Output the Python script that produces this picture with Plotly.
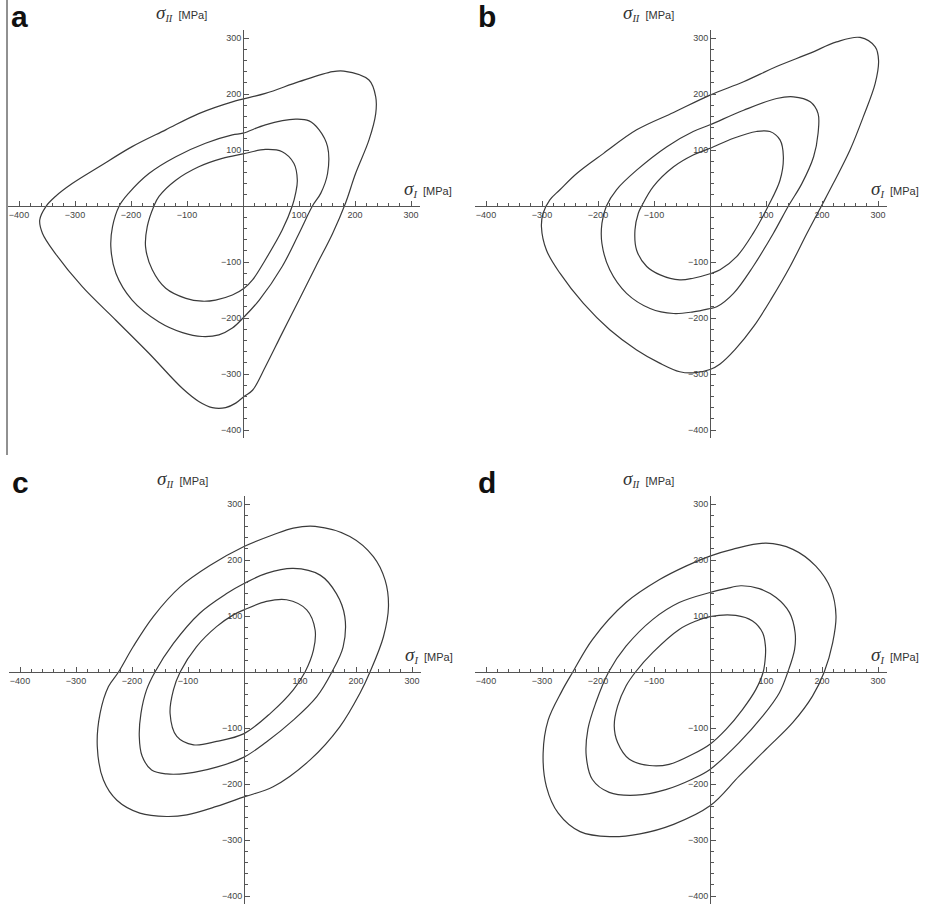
import plotly.graph_objects as go

# ── curve data (sigma_I, sigma_II in MPa) ──────────────────────────────────
# each list is one closed curve; the first point is repeated at draw time
# panel a
A_OUTER_X = [130, 100, 70, 40, 17, 2, -13, -31, -55, -79, -108, -168, -227, -287, -335, -358, -363, -352, -335,
             -305, -257, -198, -138, -79, -19, 40, 100, 160, 180, 225, 237, 237, 225, 201, 183, 160]
A_OUTER_Y = [-108, -168, -227, -287, -329, -340, -352, -360, -360, -349, -326, -263, -204, -144, -85, -49, -25, -1, 17,
             40, 70, 106, 136, 165, 186, 201, 222, 240, 241, 225, 195, 165, 118, 58, 5, -49]
A_MID_X = [70, 29, 2, -19, -43, -73, -108, -150, -198, -227, -236, -233, -221, -204, -168, -120, -67, -19, 0, 40,
           94, 118, 136, 151, 151, 139, 124, 100]
A_MID_Y = [-108, -168, -198, -218, -230, -233, -226, -207, -168, -120, -73, -37, 0, 23, 58, 88, 112, 127, 130, 145,
           155, 152, 136, 106, 58, 23, 0, -49]
A_IN_X = [40, 17, 2, -19, -49, -73, -102, -138, -162, -174, -171, -159, -150, -120, -79, -37, 0, 40, 70, 91, 97,
          94, 88, 70]
A_IN_Y = [-96, -132, -147, -159, -168, -170, -165, -147, -114, -73, -37, 0, 17, 46, 70, 85, 93, 101, 97, 76, 46,
          23, 0, -43]

# panel b
B_OUTER_X = [143, 110, 78, 45, 18, 0, -30, -54, -89, -131, -179, -226, -268, -292, -301, -298, -286, -268, -238,
             -190, -131, -65, 0, 60, 119, 179, 226, 268, 295, 301, 295, 274, 250, 220, 199, 173]
B_OUTER_Y = [-108, -165, -215, -256, -282, -292, -298, -296, -281, -257, -221, -174, -120, -79, -37, -13, 11, 29, 58,
             94, 136, 167, 198, 222, 249, 273, 293, 301, 284, 260, 219, 160, 100, 40, 0, -49]
B_MID_X = [77, 42, 12, 0, -30, -65, -107, -149, -179, -193, -193, -185, -167, -131, -77, -30, 0, 60, 119, 149,
           179, 193, 193, 185, 164, 140, 113]
B_MID_Y = [-108, -156, -180, -183, -189, -192, -183, -156, -114, -67, -31, 0, 29, 64, 106, 133, 145, 171, 192, 195,
           186, 165, 130, 88, 40, 0, -49]
B_IN_X = [48, 18, 0, -30, -54, -89, -113, -131, -134, -128, -122, -101, -65, -30, 0, 42, 83, 107, 125, 131, 125,
          104, 77]
B_IN_Y = [-90, -114, -121, -129, -132, -123, -108, -79, -43, -13, 0, 35, 70, 91, 103, 121, 133, 133, 118, 88, 46,
          0, -49]

# panel c
C_OUTER_X = [171, 118, 52, 0, -49, -102, -138, -186, -227, -251, -262, -257, -242, -224, -198, -162, -114, -61, 0,
             52, 88, 127, 189, 231, 252, 258, 249, 225, 207]
C_OUTER_Y = [-98, -157, -205, -223, -240, -255, -258, -252, -229, -193, -133, -74, -26, 0, 45, 99, 152, 190, 224,
             245, 257, 260, 242, 206, 164, 117, 63, 0, -38]
C_MID_X = [88, 40, 0, -49, -102, -138, -165, -182, -187, -184, -174, -159, -126, -79, -31, 0, 40, 88, 136, 165,
           180, 177, 157, 130]
C_MID_Y = [-86, -125, -152, -170, -181, -182, -175, -150, -115, -74, -32, 0, 51, 105, 140, 158, 176, 185, 173, 140,
           99, 45, 0, -44]
C_IN_X = [-85, -49, -19, 0, 40, 76, 112, 127, 124, 109, 88, 48, 0, -49, -90, -120, -132, -126, -114]
C_IN_Y = [45, 81, 102, 111, 126, 129, 111, 75, 39, 0, -32, -73, -110, -124, -130, -115, -74, -32, 0]

# panel d
D_OUTER_X = [148, 100, 52, 0, -65, -125, -179, -232, -271, -292, -298, -289, -265, -245, -210, -150, -90, -43, 0,
             40, 100, 148, 189, 216, 225, 219, 204, 183]
D_OUTER_Y = [-90, -138, -186, -239, -272, -289, -294, -285, -252, -205, -145, -86, -35, 0, 58, 124, 165, 189, 207,
             219, 230, 219, 189, 148, 100, 52, 0, -43]
D_MID_X = [94, 52, 0, -31, -79, -132, -180, -210, -221, -218, -204, -181, -150, -102, -55, 0, 29, 55, 88, 118,
           142, 152, 151, 139, 124]
D_MID_Y = [-79, -126, -174, -191, -210, -220, -215, -192, -150, -102, -55, 0, 46, 94, 124, 142, 149, 154, 149, 133,
           106, 70, 40, 0, -37]
D_IN_X = [58, 29, 0, -31, -73, -108, -144, -165, -171, -165, -150, -133, -102, -55, -25, 0, 46, 76, 94, 99, 99,
          95, 82]
D_IN_Y = [-67, -102, -129, -147, -165, -167, -156, -126, -96, -61, -25, 0, 35, 76, 91, 99, 101, 91, 70, 46, 29,
          0, -31]

PANELS = {
    "a": [(A_OUTER_X, A_OUTER_Y), (A_MID_X, A_MID_Y), (A_IN_X, A_IN_Y)],
    "b": [(B_OUTER_X, B_OUTER_Y), (B_MID_X, B_MID_Y), (B_IN_X, B_IN_Y)],
    "c": [(C_OUTER_X, C_OUTER_Y), (C_MID_X, C_MID_Y), (C_IN_X, C_IN_Y)],
    "d": [(D_OUTER_X, D_OUTER_Y), (D_MID_X, D_MID_Y), (D_IN_X, D_IN_Y)],
}

TICKS = [-400, -300, -200, -100, 100, 200, 300]
X_RANGE = [-420, 316]
Y_RANGE = [-414, 314]

# ── layout in pixels ──────────────────────────────────────────────────────
W, H = 927, 910
SCALE = 0.56                       # px per MPa
ORIGINS = {"a": (243, 206), "b": (710, 206), "c": (244, 672), "d": (710, 672)}
LINE_C = "#3a3a3a"
AXIS_C = "#555555"

def px(x):
    return x / W

def py(y):
    return 1 - y / H

fig = go.Figure()
layout = dict(width=W, height=H, margin=dict(l=0, r=0, t=0, b=0),
              plot_bgcolor="white", paper_bgcolor="white",
              showlegend=False, hovermode=False)
annotations = []

sig_ii = ('<span style="font-family:Liberation Serif;font-size:19px"><i>σ</i></span>'
          '<span style="font-family:Liberation Serif;font-size:15px"><sub><i>II</i></sub></span>'
          '&nbsp;&nbsp;<span style="font-size:11px">[MPa]</span>')
sig_i = ('<span style="font-family:Liberation Serif;font-size:19px"><i>σ</i></span>'
         '<span style="font-family:Liberation Serif;font-size:15px"><sub><i>I</i></sub></span>'
         '&nbsp;&nbsp;<span style="font-size:11px">[MPa]</span>')

for i, (name, curves) in enumerate(PANELS.items()):
    n = "" if i == 0 else str(i + 1)
    ox, oy = ORIGINS[name]
    x0 = ox + X_RANGE[0] * SCALE
    x1 = ox + X_RANGE[1] * SCALE
    ytop = oy - Y_RANGE[1] * SCALE
    ybot = oy - Y_RANGE[0] * SCALE

    for cx, cy in curves:
        fig.add_trace(go.Scatter(x=cx + cx[:1], y=cy + cy[:1], mode="lines",
                                 line=dict(color=LINE_C, width=1.2, shape="spline", smoothing=1.0),
                                 xaxis="x" + n, yaxis="y" + n))

    common = dict(showgrid=False, zeroline=False, showline=True, linecolor=AXIS_C, linewidth=1,
                  tickmode="array", tickvals=TICKS, ticks="inside", ticklen=5, tickcolor=AXIS_C,
                  tickfont=dict(family="Liberation Sans", size=9, color="#444444"),
                  minor=dict(tickmode="linear", tick0=0, dtick=20, ticks="inside", ticklen=3,
                             tickcolor=AXIS_C),
                  anchor="free", fixedrange=True)
    layout["xaxis" + n] = dict(common, domain=[px(x0), px(x1)], range=X_RANGE, position=py(oy))
    layout["yaxis" + n] = dict(common, domain=[py(ybot), py(ytop)], range=Y_RANGE, position=px(ox))

    # panel letter
    annotations.append(dict(text="<b>%s</b>" % name, x=px(x0 + 1), y=py(oy - 190), xref="paper", yref="paper",
                            xanchor="left", yanchor="middle", showarrow=False,
                            font=dict(family="Liberation Sans", size=30, color="#111111")))
    # axis titles
    annotations.append(dict(text=sig_ii, x=px(ox - 89), y=py(oy - 193), xref="paper", yref="paper",
                            xanchor="left", yanchor="middle", showarrow=False,
                            font=dict(family="Liberation Sans", size=11, color="#333333")))
    annotations.append(dict(text=sig_i, x=px(ox + 159), y=py(oy - 17), xref="paper", yref="paper",
                            xanchor="left", yanchor="middle", showarrow=False,
                            font=dict(family="Liberation Sans", size=11, color="#333333")))

layout["annotations"] = annotations
# stray frame line at the left edge of panel a
layout["shapes"] = [dict(type="line", xref="paper", yref="paper", x0=px(7), x1=px(7), y0=py(455), y1=1,
                         line=dict(color="#222222", width=1))]
fig.update_layout(**layout)
fig.write_html("out.html", config={"displayModeBar": False},
               post_script="document.body.style.margin='0';")
